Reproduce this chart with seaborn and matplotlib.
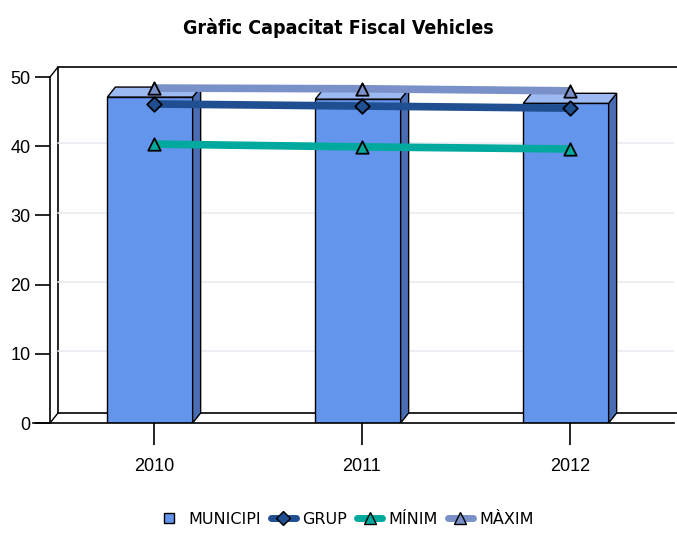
import numpy as np
import matplotlib
matplotlib.use("Agg")
import matplotlib.pyplot as plt
from matplotlib.patches import Polygon, Rectangle
from matplotlib.lines import Line2D
import seaborn as sns

# chart data
anys = ["2010", "2011", "2012"]
municipi = [47.1, 46.8, 46.2]
grup = [46.1, 45.8, 45.5]
minim = [40.3, 39.9, 39.6]
maxim = [48.4, 48.3, 48.0]

# colours
c_front = "#6495ED"
c_side = "#4A6CB3"
c_top = "#9DB9F2"
c_grup = "#1F4E91"
c_minim = "#00A99D"
c_maxim = "#7A90C8"

sns.set_style("white", {"xtick.bottom": True, "ytick.left": True,
                        "text.color": "black", "xtick.color": "black",
                        "ytick.color": "black"})
plt.rcParams["font.family"] = ["Liberation Sans", "DejaVu Sans"]

fig = plt.figure(figsize=(6.77, 5.34), dpi=100)
ax = fig.add_axes([50 / 677, 111 / 534, 624 / 677, 346 / 534])
ax.set_xlim(-0.5, 2.5)
ax.set_ylim(0, 50)

# 3d depth expressed in data units (8px right, 10px up)
px_x = 624 / 3.0
px_y = 346 / 50.0
ddx = 8 / px_x
ddy = 10 / px_y

# back wall + floor
ax.add_patch(Rectangle((-0.5 + ddx, ddy), 3, 50, facecolor="white",
                       edgecolor="black", linewidth=1.2, zorder=0.5, clip_on=False))
ax.plot([-0.5, -0.5 + ddx], [0, ddy], color="black", lw=1, clip_on=False, zorder=0.6)
ax.plot([-0.5, -0.5 + ddx], [50, 50 + ddy], color="black", lw=1, clip_on=False, zorder=0.6)
for v in [10, 20, 30, 40]:
    ax.plot([-0.5 + ddx, 2.5], [v + 0.4, v + 0.4], color="#E8ECF2", lw=1.2, zorder=0.7)

pos = np.arange(len(anys))
bw = 0.41
sns.barplot(x=anys, y=municipi, color=c_front, width=bw, saturation=1,
            edgecolor="black", linewidth=1, ax=ax, zorder=2)
for p in ax.patches[1:]:
    p.set_x(p.get_x() - ddx / 2)

# side and top faces of the bars
for xi, v in zip(pos, municipi):
    xl = xi - bw / 2 - ddx / 2
    xr = xl + bw
    side = Polygon([(xr, 0), (xr + ddx, ddy), (xr + ddx, v + ddy), (xr, v)],
                   closed=True, facecolor=c_side, edgecolor="black", lw=1, zorder=2)
    top = Polygon([(xl, v), (xl + ddx, v + ddy), (xr + ddx, v + ddy), (xr, v)],
                  closed=True, facecolor=c_top, edgecolor="black", lw=1, zorder=2)
    ax.add_patch(side)
    ax.add_patch(top)

# series lines
series = [
    (grup, c_grup, "D"),
    (minim, c_minim, "^"),
    (maxim, c_maxim, "^"),
]
for vals, col, mk in series:
    sns.lineplot(x=pos, y=vals, color=col, lw=5.5, ax=ax, zorder=3,
                 solid_capstyle="butt")
    ax.scatter(pos, vals, marker=mk, s=80 if mk == "^" else 55, color=col,
               edgecolor="black", linewidth=1.3, zorder=4)

# axes styling
for s in ["top", "right"]:
    ax.spines[s].set_visible(False)
for s in ["left", "bottom"]:
    ax.spines[s].set_linewidth(1.2)
    ax.spines[s].set_color("black")
ax.spines["bottom"].set_bounds(-0.58, 2.5)
ax.set_xticks(pos)
ax.set_xticklabels(anys)
ax.set_yticks([0, 10, 20, 30, 40, 50])
ax.tick_params(axis="x", length=16, width=1.2, pad=9, labelsize=13, colors="black")
ax.tick_params(axis="y", length=11, width=1.2, pad=3, labelsize=13, colors="black")
ax.set_xlabel("")
ax.set_ylabel("")

fig.text(0.5, 0.947, "Gràfic Capacitat Fiscal Vehicles", ha="center", va="center",
         fontsize=14, fontweight="bold", color="black",
         family=["DejaVu Sans"], fontstretch="condensed")

handles = [
    Line2D([], [], marker="s", markersize=7, color=c_front, markeredgecolor="black",
           linestyle="none"),
    Line2D([], [], marker="D", markersize=7, color=c_grup, markeredgecolor="black", lw=5),
    Line2D([], [], marker="^", markersize=9, color=c_minim, markeredgecolor="black", lw=5),
    Line2D([], [], marker="^", markersize=9, color=c_maxim, markeredgecolor="black", lw=5),
]
fig.legend(handles, ["MUNICIPI", "GRUP", "MÍNIM", "MÀXIM"], loc="center",
           bbox_to_anchor=(0.51, 0.028), ncol=4, frameon=False, handlelength=1.6,
           handletextpad=0.4, columnspacing=0.6,
           prop={"family": ["DejaVu Sans"], "size": 11.5})

fig.savefig("out.png", dpi=100)
